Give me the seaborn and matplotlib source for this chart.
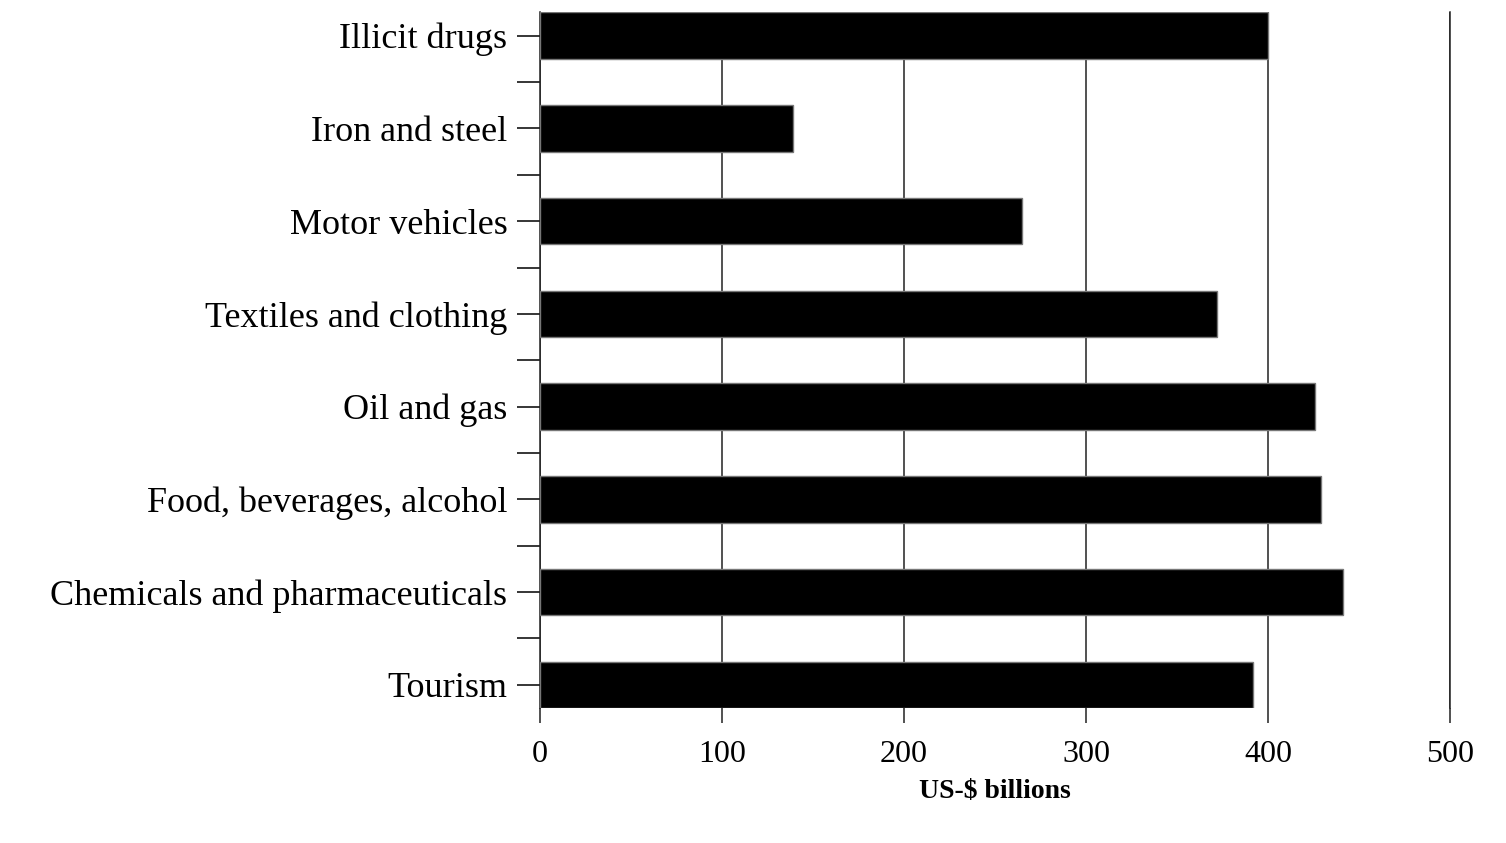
import matplotlib
matplotlib.use("Agg")
import matplotlib.pyplot as plt
import numpy as np
import pandas as pd
import seaborn as sns
from matplotlib.ticker import FixedLocator

categories = [
    "Illicit drugs",
    "Iron and steel",
    "Motor vehicles",
    "Textiles and clothing",
    "Oil and gas",
    "Food, beverages, alcohol",
    "Chemicals and pharmaceuticals",
    "Tourism",
]
values = [400, 139, 265, 372, 426, 429, 441, 392]

df = pd.DataFrame({"category": categories, "value": values})

sns.set_theme(style="white")
plt.rcParams["font.family"] = ["Liberation Serif", "DejaVu Serif"]
plt.rcParams["text.color"] = "black"
plt.rcParams["xtick.color"] = "black"
plt.rcParams["ytick.color"] = "black"
plt.rcParams["axes.labelcolor"] = "black"

fig = plt.figure(figsize=(15.06, 8.43), dpi=100)
ax = fig.add_axes([0.3586, 0.1601, 0.6042, 0.8251])

sns.barplot(
    data=df,
    x="value",
    y="category",
    order=categories,
    color="black",
    saturation=1,
    width=0.5,
    edgecolor="#777777",
    linewidth=1,
    ax=ax,
    zorder=3,
)

ax.set_xlim(0, 500)
ax.set_ylim(len(categories) - 0.75, -0.25)
ax.set_xticks([0, 100, 200, 300, 400, 500])
ax.xaxis.grid(True, color="#222222", linewidth=1.1, zorder=0)
ax.yaxis.grid(False)

for side in ["top", "bottom"]:
    ax.spines[side].set_visible(False)
for side in ["left", "right"]:
    ax.spines[side].set_color("#222222")
    ax.spines[side].set_linewidth(1.1)

ax.tick_params(axis="x", which="major", direction="out", length=11, width=1.1,
               color="#222222", bottom=True, labelsize=23, pad=12)
ax.tick_params(axis="y", which="major", direction="out", length=16.5, width=1.1,
               color="black", left=True, labelsize=26, pad=7)
ax.yaxis.set_minor_locator(FixedLocator(np.arange(0.5, len(categories) - 1, 1.0)))
ax.tick_params(axis="y", which="minor", direction="out", length=16.5, width=1.1,
               color="black", left=True)

ax.set_ylabel("")
ax.set_xlabel("US-$ billions", fontsize=20, fontweight="bold", labelpad=7)

fig.savefig("out.png", dpi=100)
